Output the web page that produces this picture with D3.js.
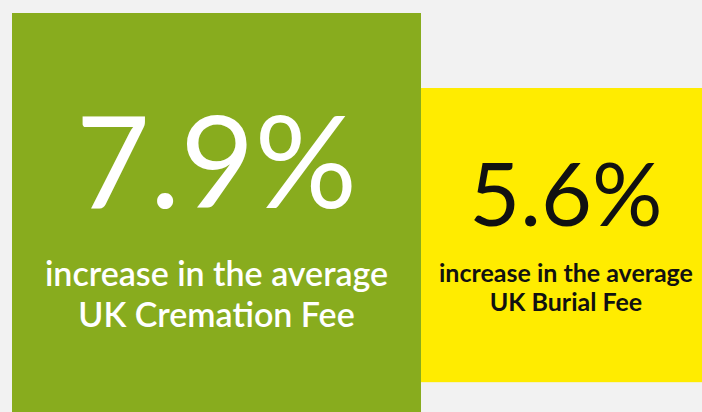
<!DOCTYPE html>
<html>
<head>
<meta charset="utf-8">
<script src="https://cdn.jsdelivr.net/npm/d3@7"></script>
<style>
  html, body { margin: 0; padding: 0; background: #f2f2f2; }
  svg { display: block; }
</style>
</head>
<body>
<div id="vis"></div>
<script>
let width = 702
let height = 412

// data
let values = [7.9, 5.6]
let labels = ["7.9%", "5.6%"]
let lineOne = ["increase in the average", "increase in the average"]
let lineTwo = ["UK Cremation Fee", "UK Burial Fee"]

// look of each card
let fills = ["#88ac1e", "#ffec00"]
let inks = ["#ffffff", "#111111"]
let bigWeight = [400, 400]
let bigSize = [128, 88]
let subWeight = [600, 700]
let subSize = [34, 25]
let tops = [13, 88]

let svg = d3.select("#vis")
  .append("svg")
    .attr("width", width)
    .attr("height", height)
    .style("background", "#f2f2f2")

// card size grows with the value
let w = d3.scaleLinear().domain([0, 7.9]).range([0, 409])
let h = d3.scaleLinear().domain([0, 7.9]).range([0, 415])

let cards = values.map(function(v, i) {
  return { value: v, label: labels[i], one: lineOne[i], two: lineTwo[i], i: i }
})

// cards sit side by side
let x0 = 12
cards.forEach(function(d) {
  d.x = x0
  d.w = w(d.value)
  d.h = h(d.value)
  d.y = tops[d.i]
  x0 += d.w
})

let g = svg.selectAll("g.card")
  .data(cards)
  .enter()
  .append("g")
    .attr("class", "card")
    .attr("transform", function(d) { return "translate(" + d.x + "," + d.y + ")" })

g.append("rect")
  .attr("width", function(d) { return d.w })
  .attr("height", function(d) { return d.h })
  .style("fill", function(d) { return fills[d.i] })

// text offsets scale with the card too (measured on the green one)
let k = function(d) { return d.w / 409 }

g.append("text")
  .attr("x", function(d) { return d.w / 2 })
  .attr("y", function(d) { return 195 * k(d) })
  .attr("text-anchor", "middle")
  .style("font-family", "Lato, 'Open Sans', sans-serif")
  .style("font-weight", function(d) { return bigWeight[d.i] })
  .style("font-size", function(d) { return bigSize[d.i] + "px" })
  .style("fill", function(d) { return inks[d.i] })
  .text(function(d) { return d.label })

g.append("text")
  .attr("x", function(d) { return d.w / 2 })
  .attr("y", function(d) { return 273 * k(d) })
  .attr("text-anchor", "middle")
  .style("font-family", "Lato, 'Open Sans', sans-serif")
  .style("font-weight", function(d) { return subWeight[d.i] })
  .style("font-size", function(d) { return subSize[d.i] + "px" })
  .style("fill", function(d) { return inks[d.i] })
  .text(function(d) { return d.one })

g.append("text")
  .attr("x", function(d) { return d.w / 2 })
  .attr("y", function(d) { return 314 * k(d) })
  .attr("text-anchor", "middle")
  .style("font-family", "Lato, 'Open Sans', sans-serif")
  .style("font-weight", function(d) { return subWeight[d.i] })
  .style("font-size", function(d) { return subSize[d.i] + "px" })
  .style("fill", function(d) { return inks[d.i] })
  .text(function(d) { return d.two })
</script>
</body>
</html>
